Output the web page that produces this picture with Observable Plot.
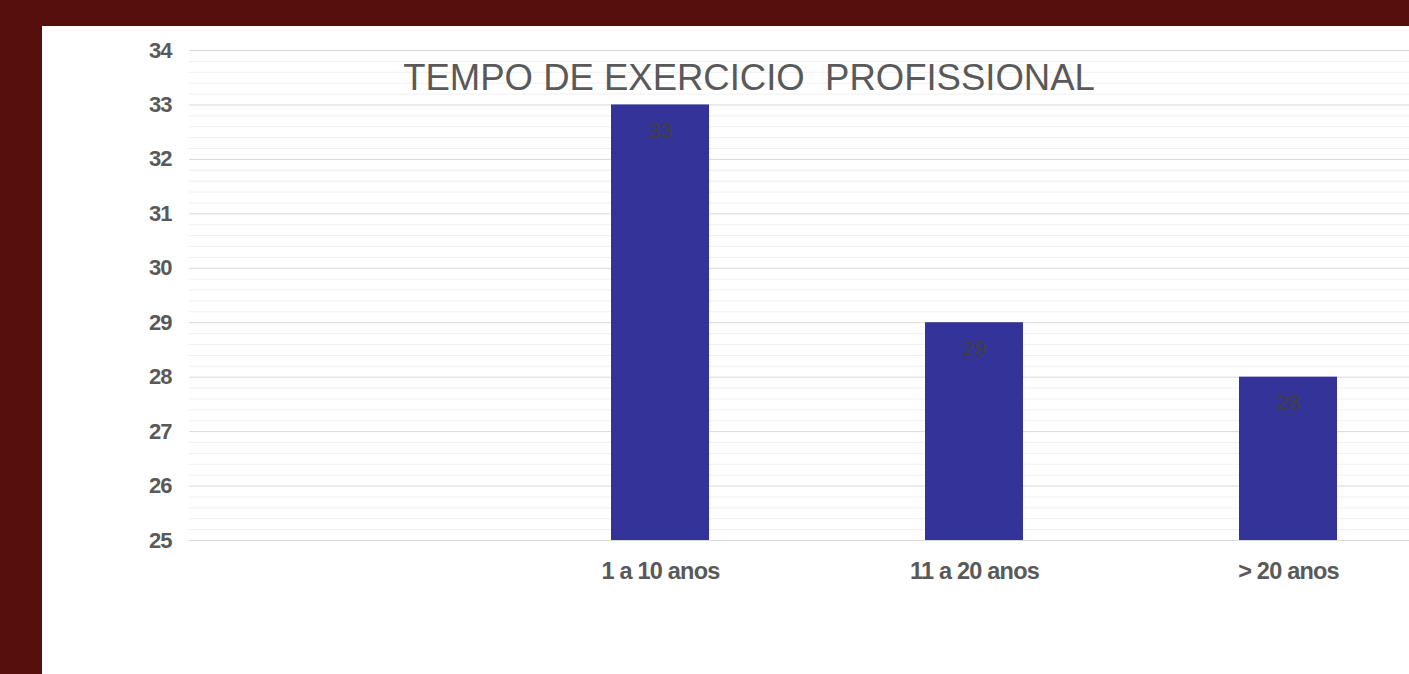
<!DOCTYPE html>
<html>
<head>
<meta charset="utf-8">
<script src="https://cdn.jsdelivr.net/npm/d3@7"></script>
<script src="https://cdn.jsdelivr.net/npm/@observablehq/plot@0.6"></script>
<style>
  html, body { margin: 0; padding: 0; width: 1409px; height: 674px; overflow: hidden; background: #570f0e; }
  #panel { position: absolute; left: 42px; top: 26px; width: 1500px; height: 700px; background: #ffffff; }
  #title { position: absolute; left: 0; top: 34px; width: 1414px; text-align: center;
           font-family: "Liberation Sans", Arial, sans-serif; font-size: 36.5px; color: #595959;
           letter-spacing: 0px; white-space: pre; z-index: 2; line-height: 1; }
  #chart { position: absolute; left: 0; top: 0; }
</style>
</head>
<body>
<div id="panel">
  <div id="chart"></div>
  <div id="title">TEMPO DE EXERCICIO  PROFISSIONAL</div>
</div>
<script>
const categories = [" ", "1 a 10 anos", "11 a 20 anos", "> 20 anos"];
const values = [null, 33, 29, 28];
const yTicks = [25, 26, 27, 28, 29, 30, 31, 32, 33, 34];
const minorStep = 0.2;

const data = categories.map((c, i) => ({cat: c, v: values[i]})).filter(d => d.v != null);
const minorTicks = d3.range(yTicks[0], yTicks[yTicks.length - 1] + 1e-9, minorStep)
  .filter(t => Math.abs(t - Math.round(t)) > 1e-6);

const plot = Plot.plot({
  width: 1403,
  height: 648,
  marginLeft: 147,
  marginRight: 0,
  marginTop: 24,
  marginBottom: 134,
  style: {fontFamily: "'Liberation Sans', Arial, sans-serif", background: "transparent"},
  x: {domain: categories, paddingInner: 0.688, paddingOuter: 0.344, label: null},
  y: {domain: [yTicks[0], yTicks[yTicks.length - 1]], label: null},
  marks: [
    Plot.ruleY(minorTicks, {stroke: "#f0f0f0", strokeWidth: 1}),
    Plot.ruleY(yTicks, {stroke: "#d9d9d9", strokeWidth: 1}),
    Plot.barY(data, {x: "cat", y1: yTicks[0], y2: "v", fill: "#333399"}),
    Plot.text(data, {x: "cat", y: "v", text: d => String(d.v), dy: 26, fill: "#404040", fontSize: 22}),
    Plot.axisY({ticks: yTicks, tickSize: 0, tickPadding: 18, fontSize: 22, fontWeight: "bold", fill: "#595959", label: null}),
    Plot.axisX({tickSize: 0, tickPadding: 22, fontSize: 23.5, fontWeight: "bold", fill: "#595959", label: null})
  ]
});
plot.querySelectorAll("g[aria-label='y-axis tick label']").forEach(g => g.setAttribute("letter-spacing", "-1"));
plot.querySelectorAll("g[aria-label='x-axis tick label']").forEach(g => g.setAttribute("letter-spacing", "-0.8"));
document.getElementById("chart").appendChild(plot);
</script>
</body>
</html>
